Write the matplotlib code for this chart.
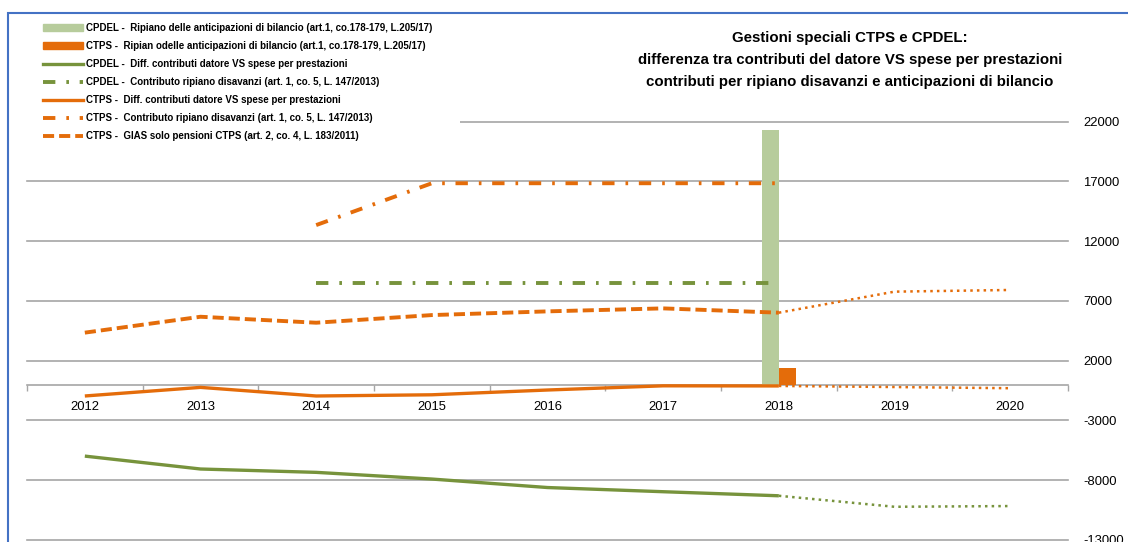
import numpy as np
import matplotlib
matplotlib.use('Agg')
import matplotlib.pyplot as plt
from matplotlib.lines import Line2D
from matplotlib.patches import Patch, Rectangle

plt.rcParams['font.family'] = ['Liberation Sans', 'DejaVu Sans']
plt.rcParams['lines.scale_dashes'] = False
plt.rcParams['axes.unicode_minus'] = False

nan = np.nan
years = ['2012', '2013', '2014', '2015', '2016', '2017', '2018', '2019', '2020']

# bars (only 2018)
cpdel_anticip = [0, 0, 0, 0, 0, 0, 21300, 0, 0]
ctps_anticip = [0, 0, 0, 0, 0, 0, 1400, 0, 0]

# lines
cpdel_diff = [-5980, -7060, -7340, -7900, -8610, -8960, -9300, nan, nan]
cpdel_diff_proj = [nan, nan, nan, nan, nan, nan, -9300, -10220, -10160]
cpdel_ripiano = [nan, nan, 8480, 8480, 8480, 8480, 8480, nan, nan]
ctps_diff = [-950, -230, -950, -850, -450, -100, -110, nan, nan]
ctps_diff_proj = [nan, nan, nan, nan, nan, nan, -110, -200, -300]
ctps_ripiano = [nan, nan, 13350, 16850, 16850, 16850, 16850, nan, nan]
ctps_gias = [4350, 5680, 5180, 5820, 6130, 6380, 6020, nan, nan]
ctps_gias_proj = [nan, nan, nan, nan, nan, nan, 6020, 7780, 7920]

yticks = [-13000, -8000, -3000, 2000, 7000, 12000, 17000, 22000]

GREEN_BAR = '#B7CC9C'
ORANGE = '#E46C0A'
GREEN = '#77933C'
GRID = '#A6A6A6'

W, H = 1128, 542
fig = plt.figure(figsize=(W / 100, H / 100), dpi=100)
ax = fig.add_axes([27 / W, 2 / H, (1068 - 27) / W, (540 - 121.7) / H])

x = np.arange(len(years))
bw = 0.147
ax.bar(x - bw / 2, cpdel_anticip, bw, color=GREEN_BAR, zorder=2)
ax.bar(x + bw / 2, ctps_anticip, bw, color=ORANGE, zorder=2)

solid = dict(lw=2.4, solid_capstyle='butt', zorder=3)
dashdot = (0, (8.9, 7.9, 1.9, 7.7))
dashed = (0, (8.0, 3.6))
dotted = (0, (1.8, 3.0))

ax.plot(x, cpdel_diff, color=GREEN, **solid)
ax.plot(x, cpdel_diff_proj, color=GREEN, lw=1.8, ls=dotted, zorder=3)
ax.plot(x, cpdel_ripiano, color=GREEN, lw=2.8, ls=dashdot, dash_capstyle='butt', zorder=3)
ax.plot(x, ctps_diff, color=ORANGE, **solid)
ax.plot(x, ctps_diff_proj, color=ORANGE, lw=1.8, ls=dotted, zorder=3)
ax.plot(x, ctps_ripiano, color=ORANGE, lw=2.8, ls=dashdot, dash_capstyle='butt', zorder=3)
ax.plot(x, ctps_gias, color=ORANGE, lw=2.8, ls=dashed, dash_capstyle='butt', zorder=3)
ax.plot(x, ctps_gias_proj, color=ORANGE, lw=1.8, ls=dotted, zorder=3)

ax.set_xlim(-0.5, len(years) - 0.5)
ax.set_ylim(-13000, 22000)
ax.set_yticks(yticks)
ax.yaxis.tick_right()
ax.tick_params(axis='y', length=0, pad=11, labelsize=9.4)
ax.grid(axis='y', color=GRID, lw=1.2, zorder=0)
for gl in ax.get_ygridlines():
    gl.set_clip_on(False)

ax.set_xticks(x)
ax.set_xticklabels(years)
ax.set_xticks(np.arange(-0.5, len(years)), minor=True)
ax.tick_params(axis='x', which='major', length=0, pad=12, labelsize=9.4)
ax.tick_params(axis='x', which='minor', length=4, color=GRID, width=1)

for s in ['top', 'right', 'left']:
    ax.spines[s].set_visible(False)
ax.spines['bottom'].set_position(('data', 0))
ax.spines['bottom'].set_color(GRID)
ax.spines['bottom'].set_linewidth(1.2)
ax.spines['bottom'].set_zorder(1)

# white area behind the legend (covers the top gridline like the original box)
fig.add_artist(Rectangle((20 / W, 1 - 145 / H), 440 / W, 128 / H, transform=fig.transFigure,
                         facecolor='white', edgecolor='none', zorder=4))

handles = [
    Patch(color=GREEN_BAR),
    Patch(color=ORANGE),
    Line2D([], [], color=GREEN, lw=2.4),
    Line2D([], [], color=GREEN, lw=2.8, ls=dashdot),
    Line2D([], [], color=ORANGE, lw=2.4),
    Line2D([], [], color=ORANGE, lw=2.8, ls=dashdot),
    Line2D([], [], color=ORANGE, lw=2.8, ls=dashed),
]
labels = [
    'CPDEL -  Ripiano delle anticipazioni di bilancio (art.1, co.178-179, L.205/17)',
    'CTPS -  Ripian odelle anticipazioni di bilancio (art.1, co.178-179, L.205/17)',
    'CPDEL -  Diff. contributi datore VS spese per prestazioni',
    'CPDEL -  Contributo ripiano disavanzi (art. 1, co. 5, L. 147/2013)',
    'CTPS -  Diff. contributi datore VS spese per prestazioni',
    'CTPS -  Contributo ripiano disavanzi (art. 1, co. 5, L. 147/2013)',
    'CTPS -  GIAS solo pensioni CTPS (art. 2, co. 4, L. 183/2011)',
]
leg = fig.legend(handles, labels, loc='upper left', bbox_to_anchor=(40 / W, 1 - 20 / H),
                 frameon=False, borderpad=0.3, borderaxespad=0,
                 prop=dict(weight='bold', size=7),
                 handlelength=4.1, handleheight=0.7, handletextpad=0.3, labelspacing=0.83)
leg.set_zorder(5)

title_lines = ['Gestioni speciali CTPS e CPDEL:',
               'differenza tra contributi del datore VS spese per prestazioni',
               'contributi per ripiano disavanzi e anticipazioni di bilancio']
for i, t in enumerate(title_lines):
    fig.text(850 / W, 1 - (38 + 22 * i) / H, t, ha='center', va='center',
             fontsize=10.8, fontweight='bold')

fig.add_artist(Rectangle((8 / W, -0.05), 1.2, 1.05 - 13 / H, transform=fig.transFigure,
                         fill=False, edgecolor='#4472C4', lw=1.5))

fig.savefig('out.png', dpi=100)
